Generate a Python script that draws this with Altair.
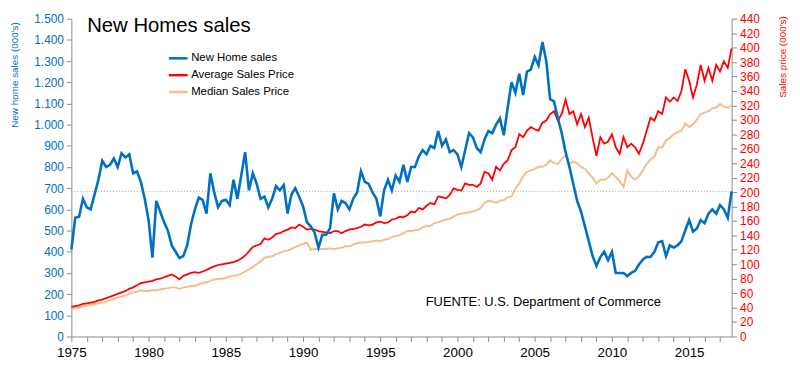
import altair as alt
import pandas as pd

# Quarterly observations, 1975 Q1 .. 2017 Q4 (decimal year)
start_year = 1975
n_years = 43
quarter_offsets = [0.0, 0.25, 0.5, 0.75]
years = [start_year + y + q for y in range(n_years) for q in quarter_offsets]

# New home sales (000's, SAAR) - left axis
sales = [
    410, 560, 565, 650,    # 1975
    610, 600, 670, 740,    # 1976
    830, 800, 810, 840,    # 1977
    800, 865, 845, 860,    # 1978
    770, 780, 730, 650,    # 1979
    550, 372, 640, 590,    # 1980
    540, 500, 430, 400,    # 1981
    370, 380, 430, 530,    # 1982
    600, 655, 645, 580,    # 1983
    770, 680, 610, 640,    # 1984
    645, 620, 740, 650,    # 1985
    760, 870, 690, 770,    # 1986
    720, 650, 660, 610,    # 1987
    650, 710, 690, 715,    # 1988
    580, 670, 700, 660,    # 1989
    615, 540, 520, 490,    # 1990
    419, 480, 480, 512,    # 1991
    676, 600, 640, 630,    # 1992
    600, 650, 680, 780,    # 1993
    730, 720, 680, 650,    # 1994
    567, 690, 740, 690,    # 1995
    760, 730, 810, 730,    # 1996
    800, 800, 850, 880,    # 1997
    860, 900, 890, 970,    # 1998
    900, 930, 870, 880,    # 1999
    860, 800, 880, 960,    # 2000
    940, 890, 870, 930,    # 2001
    970, 960, 1000, 1030,  # 2002
    950, 1080, 1200, 1150, # 2003
    1240, 1140, 1250, 1260,# 2004
    1320, 1280, 1390, 1300,# 2005
    1120, 1110, 1030, 960, # 2006
    870, 800, 720, 640,    # 2007
    590, 520, 450, 380,    # 2008
    333, 375, 400, 360,    # 2009
    400, 300, 300, 300,    # 2010
    285, 300, 310, 340,    # 2011
    362, 376, 375, 400,    # 2012
    445, 450, 380, 430,    # 2013
    420, 430, 450, 500,    # 2014
    550, 495, 510, 550,    # 2015
    535, 580, 600, 580,    # 2016
    620, 600, 560, 685,    # 2017
]

# Average sales price (000's $) - right axis
avg_price = [
    41, 42, 43, 45,
    46, 47, 48, 50,
    51, 53, 55, 57,
    59, 61, 63, 66,
    68, 71, 74, 75,
    76, 77, 79, 80,
    82, 84, 86, 83,
    79, 84, 86, 88,
    89, 88, 90, 92,
    95, 97, 99, 100,
    101, 102, 103, 105,
    108, 112, 118, 124,
    126, 128, 136, 134,
    137, 142, 143, 146,
    148, 151, 150, 155,
    152, 148, 149, 148,
    146, 145, 144, 143,
    146, 146, 143, 146,
    148, 149, 150, 152,
    155, 154, 155, 158,
    159, 157, 158, 162,
    163, 166, 165, 168,
    173, 172, 178, 176,
    181, 185, 183, 194,
    193, 191, 196, 205,
    203, 202, 212, 210,
    210, 207, 212, 228,
    226, 217, 235, 230,
    239, 244, 258, 262,
    280, 276, 285, 290,
    287, 285, 296, 299,
    308, 312, 299, 308,
    328, 308, 312, 294,
    308, 290, 303, 275,
    250, 276, 267, 270,
    280, 262, 253, 276,
    262, 267, 262, 253,
    267, 285, 303, 299,
    312, 308, 331, 325,
    331, 326, 340, 370,
    354, 331, 349, 376,
    354, 372, 354, 376,
    367, 381, 372, 399,
]

# Median sales price (000's $) - right axis
median_price = [
    38, 39, 40, 42,
    43, 44, 45, 46,
    47, 48, 50, 52,
    54, 55, 57, 59,
    61, 62, 64, 63,
    63, 64, 64, 65,
    66, 67, 68, 68,
    66, 68, 69, 70,
    70, 72, 74, 75,
    77, 79, 80, 80,
    81, 83, 84, 85,
    87, 90, 93, 96,
    100, 104, 109, 110,
    111, 114, 116, 118,
    119, 121, 124, 126,
    128, 130, 120, 121,
    121, 121, 121, 122,
    121, 122, 123, 125,
    125, 127, 129, 130,
    130, 131, 132, 133,
    132, 134, 135, 138,
    139, 140, 143, 146,
    146, 147, 148, 151,
    153, 153, 157, 158,
    160, 162, 163, 166,
    169, 170, 171, 172,
    173, 175, 178, 185,
    188, 187, 185, 188,
    189, 193, 194, 205,
    212, 222, 228, 230,
    232, 235, 235, 238,
    244, 240, 239, 246,
    251, 239, 242, 240,
    235, 232, 226, 220,
    212, 217, 217, 220,
    226, 221, 215, 207,
    230, 221, 217, 222,
    230, 239, 245, 249,
    262, 262, 271, 275,
    280, 283, 285, 295,
    290, 294, 300, 308,
    310, 312, 316, 317,
    322, 318, 317, 320,
]

series_names = ["New Home sales", "Average Sales Price", "Median Sales Price"]
series_colors = ["#0070C0", "#FF0000", "#F5BE8C"]
last_sales_level = 685

x_ticks = list(range(1975, 2018))
left_ticks = list(range(0, 1501, 100))
right_ticks = list(range(0, 441, 20))

FONT = "Liberation Sans"
BLUE = "#0070C0"
RED = "#FF0000"
AXIS_GRAY = "#8C8C8C"

df = pd.DataFrame({"year": years, "sales": sales, "avg": avg_price, "median": median_price})

x_enc = alt.X(
    "year:Q",
    scale=alt.Scale(domain=[1975, 2017.75], nice=False, zero=False),
    axis=alt.Axis(
        values=x_ticks, format="d",
        labelExpr="datum.value % 5 == 0 ? datum.label : ''",
        labelFont=FONT, labelFontSize=13.5, labelColor="black", labelPadding=4,
        labelFlush=False, labelOverlap=False,
        tickSize=5, tickColor=AXIS_GRAY, domainColor=AXIS_GRAY, grid=False, title=None,
    ),
)

color_scale = alt.Scale(domain=series_names, range=series_colors)
legend = alt.Legend(
    orient="none", legendX=97, legendY=29, title=None,
    symbolType="stroke", symbolSize=360, symbolStrokeWidth=2.5,
    labelFont=FONT, labelFontSize=11.5, labelColor="black",
    rowPadding=-0.5, labelOffset=2, padding=0,
)

left_axis = alt.Axis(
    orient="left", values=left_ticks,
    labelExpr="replace(format(datum.value, ','), ',', '.')",
    labelFont=FONT, labelFontSize=12, labelColor=BLUE, labelPadding=3,
    labelFlush=False, labelOverlap=False,
    tickSize=5, tickColor=AXIS_GRAY, domainColor=AXIS_GRAY, grid=False,
    title="New home sales  (000's)", titleColor=BLUE, titleFont=FONT,
    titleFontSize=10, titleFontWeight="normal", titleAngle=270,
    titleX=-57, titleY=3, titleAlign="right", titleBaseline="middle",
)

right_axis = alt.Axis(
    orient="right", values=right_ticks,
    labelFont=FONT, labelFontSize=12, labelColor=RED, labelPadding=3,
    labelFlush=False, labelOverlap=False,
    tickSize=5, tickColor=AXIS_GRAY, domainColor=AXIS_GRAY, grid=False,
    title="Sales price (000's)", titleColor=RED, titleFont=FONT,
    titleFontSize=10, titleFontWeight="normal", titleAngle=270,
    titleX=51, titleY=-3, titleAlign="right", titleBaseline="middle",
)

base = alt.Chart(df)

sales_line = base.transform_calculate(series="'New Home sales'").mark_line(strokeWidth=2.6).encode(
    x=x_enc,
    y=alt.Y("sales:Q", scale=alt.Scale(domain=[0, 1500], nice=False), axis=left_axis),
    color=alt.Color("series:N", scale=color_scale, legend=legend),
)
level_rule = alt.Chart(pd.DataFrame({"v": [last_sales_level]})).mark_rule(
    color="#A6A6A6", strokeDash=[1, 2], strokeWidth=1
).encode(y=alt.Y("v:Q", scale=alt.Scale(domain=[0, 1500], nice=False), axis=left_axis))

right_y = alt.Scale(domain=[0, 440], nice=False)
med_line = base.transform_calculate(series="'Median Sales Price'").mark_line(strokeWidth=2).encode(
    x=x_enc,
    y=alt.Y("median:Q", scale=right_y, axis=right_axis),
    color=alt.Color("series:N", scale=color_scale, legend=legend),
)
avg_line = base.transform_calculate(series="'Average Sales Price'").mark_line(strokeWidth=1.8).encode(
    x=x_enc,
    y=alt.Y("avg:Q", scale=right_y, axis=right_axis),
    color=alt.Color("series:N", scale=color_scale, legend=legend),
)

title_text = alt.Chart(pd.DataFrame({"t": ["New Homes sales"]})).mark_text(
    font=FONT, fontSize=20.5, color="black", align="left", baseline="alphabetic"
).encode(text="t:N", x=alt.value(16), y=alt.value(13))

source_text = alt.Chart(pd.DataFrame({"t": ["FUENTE: U.S. Department of Commerce"]})).mark_text(
    font=FONT, fontSize=13, color="black", align="left", baseline="alphabetic"
).encode(text="t:N", x=alt.value(358), y=alt.value(290))

right_group = alt.layer(med_line, avg_line)
left_group = alt.layer(level_rule, sales_line)

chart = alt.layer(right_group, left_group, title_text, source_text).resolve_scale(
    y="independent"
).properties(
    width=667, height=321,
    autosize=alt.AutoSizeParams(type="none"),
    padding={"left": 64, "top": 9, "right": 61, "bottom": 30},
    background="white",
).configure_view(stroke=None)

chart.save("out.html", embed_options={"renderer": "svg", "actions": False})
